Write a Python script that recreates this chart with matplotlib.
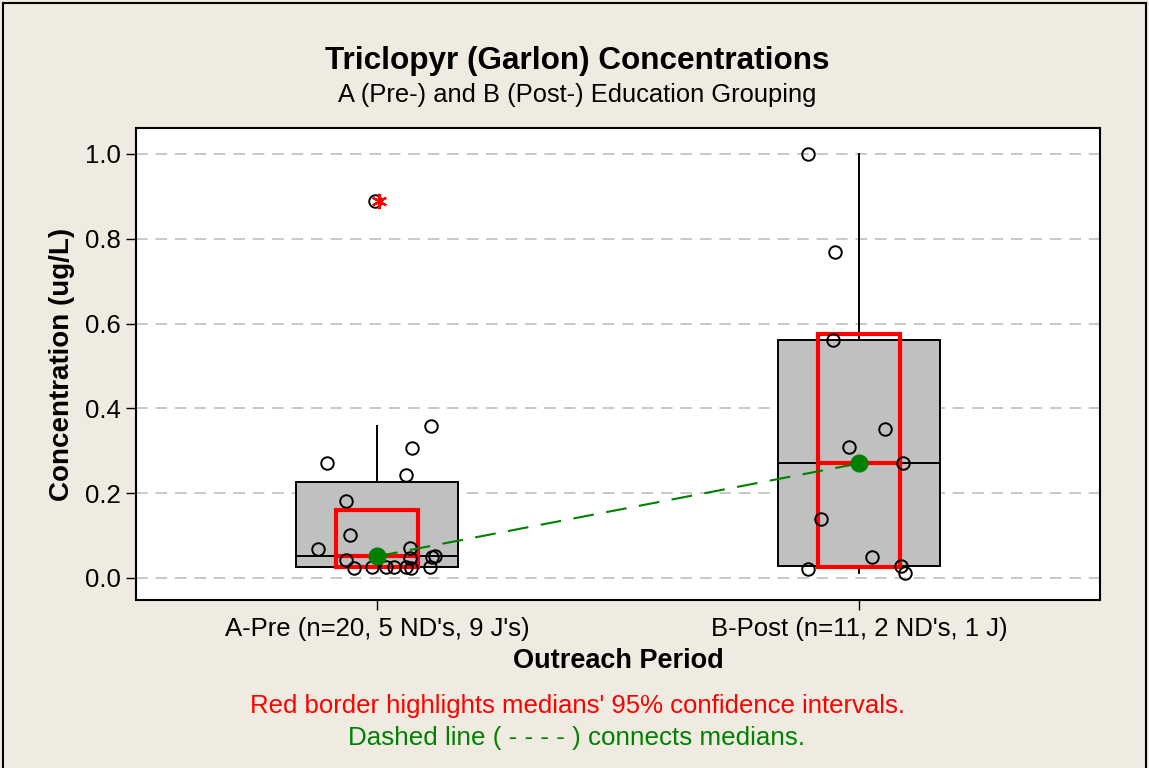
import numpy as np
import matplotlib.pyplot as plt
from matplotlib.lines import Line2D

# values (ug/L) and the horizontal jitter of each point
pre_vals = [0.890, 0.359, 0.307, 0.270, 0.242, 0.182, 0.101, 0.068, 0.070, 0.047,
            0.042, 0.050, 0.052, 0.024, 0.025, 0.025, 0.025, 0.025, 0.024, 0.025]
pre_jit = [-0.005, 0.111, 0.073, -0.104, 0.060, -0.064, -0.056, -0.122, 0.068, 0.068,
           -0.064, 0.114, 0.120, -0.048, -0.010, 0.019, 0.036, 0.060, 0.070, 0.110]
post_vals = [1.000, 0.769, 0.561, 0.351, 0.308, 0.270, 0.139, 0.050, 0.020, 0.027, 0.011]
post_jit = [-0.106, -0.050, -0.053, 0.054, -0.020, 0.092, -0.078, 0.026, -0.106, 0.088, 0.096]

# 95% CI of the medians
ci_low = [0.026, 0.026]
ci_high = [0.160, 0.575]

labels = ["A-Pre (n=20, 5 ND's, 9 J's)", "B-Post (n=11, 2 ND's, 1 J)"]

bg = "#efebe0"
plt.rcParams['font.family'] = ['Liberation Sans', 'DejaVu Sans']

fig = plt.figure(figsize=(11.49, 7.68), dpi=100, facecolor=bg)
ax = fig.add_axes([136/1149, 1-600/768, 964/1149, 472/768])
ax.set_facecolor("white")

groups = [pre_vals, post_vals]
jits = [pre_jit, post_jit]
pos = [1, 2]

stats = []
for g in groups:
    g = np.array(g)
    q1, med, q3 = np.percentile(g, [25, 50, 75], method="weibull")
    iqr = q3 - q1
    lo = g[g >= q1 - 1.5*iqr].min()
    hi = g[g <= q3 + 1.5*iqr].max()
    fl = g[(g < lo) | (g > hi)]
    stats.append(dict(q1=q1, med=med, q3=q3, whislo=lo, whishi=hi, fliers=fl))

ax.bxp(stats, positions=pos, widths=0.335, patch_artist=True, showcaps=False,
       showfliers=False,
       boxprops=dict(facecolor="#c0c0c0", edgecolor="black", linewidth=1.4),
       whiskerprops=dict(color="black", linewidth=1.4),
       medianprops=dict(color="black", linewidth=1.4), zorder=2)

# CI boxes
for i, p in enumerate(pos):
    w = 0.17
    ax.add_patch(plt.Rectangle((p - w/2, ci_low[i]), w, ci_high[i] - ci_low[i],
                               fill=False, edgecolor="red", linewidth=3, zorder=3))
    ax.plot([p - w/2, p + w/2], [stats[i]['med']]*2, color="red", lw=3, zorder=3)

# outliers
for i, p in enumerate(pos):
    fl = stats[i]['fliers']
    ax.plot([p + 0.005]*len(fl), fl, linestyle="none", marker=(6, 2, 0),
            markersize=11, color="red", mew=1.6, zorder=5)

# data points
for i, p in enumerate(pos):
    ax.plot(np.array(jits[i]) + p, groups[i], linestyle="none", marker="o",
            markersize=9, mfc="none", mec="black", mew=1.4, zorder=4)

# median connect line
meds = [s['med'] for s in stats]
ax.plot(pos, meds, color="#008000", linestyle=(0, (10, 6)), lw=1.5, zorder=6)
ax.plot(pos, meds, linestyle="none", marker="o", markersize=12, color="#008000", zorder=7)

ax.set_xlim(0.5, 2.5)
ax.set_ylim(-0.052, 1.061)
ax.set_yticks(np.arange(0, 1.01, 0.2))
ax.set_yticklabels([f"{v:.1f}" for v in np.arange(0, 1.01, 0.2)])
ax.set_xticks(pos)
ax.set_xticklabels(labels)
ax.yaxis.grid(True, color="#c8c8c8", linestyle=(0, (6, 4)), linewidth=1.4)
ax.set_axisbelow(True)
ax.tick_params(axis="both", direction="out", length=7, width=1, labelsize=18.5, colors="black")
ax.tick_params(axis="x", pad=5)
ax.tick_params(axis="y", pad=4)
for s in ax.spines.values():
    s.set_linewidth(1.5)

ax.set_ylabel("Concentration (ug/L)", fontsize=20, fontweight="bold", labelpad=7)
ax.set_xlabel("Outreach Period", fontsize=19.5, fontweight="bold", labelpad=5)

fig.text(577/1149, 1-61/768, "Triclopyr (Garlon) Concentrations", ha="center", va="center",
         fontsize=22.7, fontweight="bold")
fig.text(577/1149, 1-95/768, "A (Pre-) and B (Post-) Education Grouping", ha="center",
         va="center", fontsize=18.4)
fig.text(577/1149, 1-706/768, "Red border highlights medians' 95% confidence intervals.",
         ha="center", va="center", fontsize=18.5, color="red")
fig.text(577/1149, 1-738/768, "Dashed line ( - - - - ) connects medians.",
         ha="center", va="center", fontsize=18.7, color="#008000")

# outer frame
fig.add_artist(Line2D([3/1149, 3/1149], [0, 1-3/768], color="black", lw=1.5))
fig.add_artist(Line2D([3/1149, 1146/1149], [1-3/768, 1-3/768], color="black", lw=1.5))
fig.add_artist(Line2D([1146/1149, 1146/1149], [0, 1-3/768], color="black", lw=1.5))

fig.savefig("out.png", dpi=100, facecolor=bg)
